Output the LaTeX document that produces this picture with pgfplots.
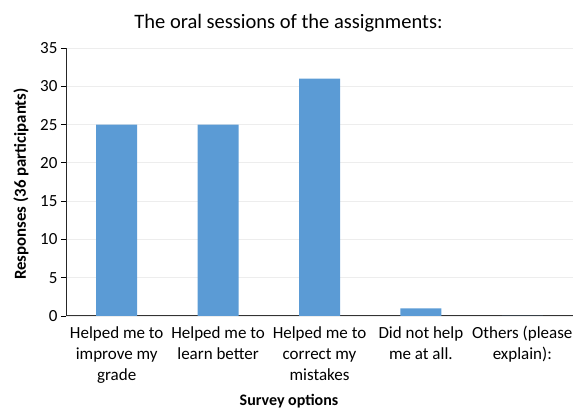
\documentclass[border=0pt]{standalone}
\usepackage{pgfplots}
\pgfplotsset{compat=1.18}
\usepackage{fontspec}
\setmainfont{Carlito}
\definecolor{barblue}{HTML}{5B9BD5}
\begin{document}
\begin{tikzpicture}
\begin{axis}[name=ax, scale only axis, width=507pt, height=268pt,
  xmin=-0.5, xmax=4.5, ymin=0, ymax=35, ytick={0,5,...,35},
  xtick={0,1,2,3,4},
  xticklabels={Helped me to\\improve my\\grade, Helped me to\\learn better, Helped me to\\correct my\\mistakes, Did not help\\me at all., Others (please\\explain):},
  xticklabel style={align=center, font=\fontsize{17}{21}\selectfont, anchor=north, yshift=-2pt},
  yticklabel style={font=\fontsize{17}{20}\selectfont},
  /pgf/number format/assume math mode=true,
  major x tick style={draw=none},
  major y tick style={black, thick},
  ytick align=outside, major tick length=5pt,
  axis x line*=bottom, axis y line*=left,
  x axis line style={draw=black!80, line width=1pt},
  y axis line style={draw=black!85, line width=1pt},
  ymajorgrids, grid style={black!7, line width=0.8pt},
  ybar, bar width=41pt,
  clip=false]
\addplot[fill=barblue, draw=none] coordinates {(0,25) (1,25) (2,31) (3,1) (4,0)};
\end{axis}
\node[font=\fontsize{20.5}{24}\selectfont] at ([xshift=-31pt, yshift=25pt]ax.north) {The oral sessions of the assignments:};
\node[font=\bfseries\fontsize{16}{20}\selectfont, anchor=base] at ([xshift=-30.5pt, yshift=-90pt]ax.south) {Survey options};
\node[font=\bfseries\fontsize{16.8}{20}\selectfont, rotate=90] at ([xshift=-45pt, yshift=-2pt]ax.west) {Responses (36 participants)};
\pgfresetboundingbox
\path[use as bounding box] ([xshift=-66pt, yshift=-94pt]ax.south west) rectangle ([xshift=3pt, yshift=48pt]ax.north east);
\end{tikzpicture}
\end{document}
